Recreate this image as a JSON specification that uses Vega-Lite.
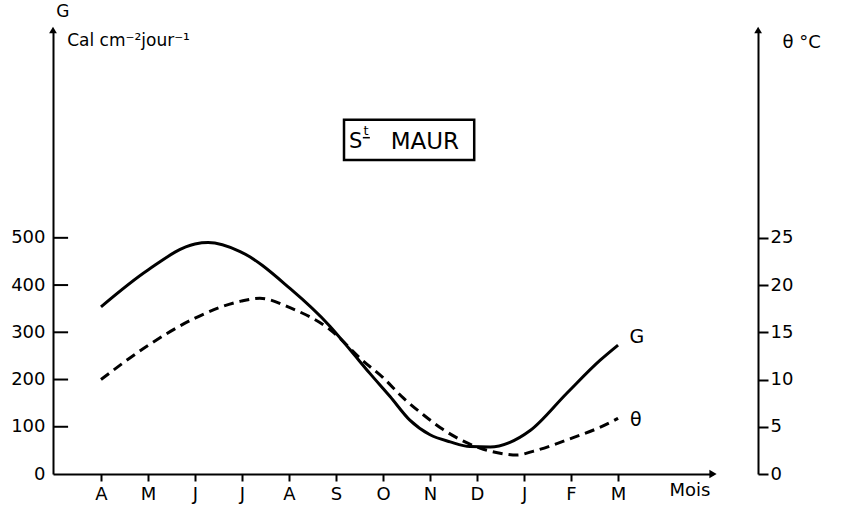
{
  "$schema": "https://vega.github.io/schema/vega-lite/v6.json",
  "width": 660,
  "height": 444,
  "autosize": {"type": "none"},
  "padding": {"left": 53, "top": 30, "right": 133, "bottom": 38},
  "background": "white",
  "config": {
    "view": {"stroke": null},
    "font": "DejaVu Sans",
    "axis": {"grid": false, "domainColor": "black", "domainWidth": 2, "tickColor": "black", "tickWidth": 2, "labelColor": "black", "labelFontSize": 18, "labelFont": "DejaVu Sans", "title": null}
  },
  "datasets": {
    "G": [
      {"m": 0, "v": 354}, {"m": 1, "v": 432}, {"m": 2, "v": 487}, {"m": 2.28, "v": 490},
      {"m": 2.96, "v": 471}, {"m": 4.02, "v": 393}, {"m": 4.87, "v": 313}, {"m": 5.3, "v": 263},
      {"m": 5.72, "v": 213}, {"m": 6.15, "v": 164}, {"m": 6.57, "v": 114}, {"m": 7.0, "v": 83},
      {"m": 7.43, "v": 68}, {"m": 7.85, "v": 58}, {"m": 8.28, "v": 57}, {"m": 8.7, "v": 67},
      {"m": 9.13, "v": 92}, {"m": 9.91, "v": 171}, {"m": 10.62, "v": 241}, {"m": 11, "v": 273}
    ],
    "T": [
      {"m": 0, "v": 10.0}, {"m": 1, "v": 13.6}, {"m": 2, "v": 16.5}, {"m": 2.98, "v": 18.3},
      {"m": 3.38, "v": 18.6}, {"m": 4.02, "v": 17.6}, {"m": 4.87, "v": 15.3}, {"m": 5.57, "v": 12.0},
      {"m": 6.0, "v": 10.2}, {"m": 6.43, "v": 8.05}, {"m": 6.85, "v": 6.3}, {"m": 7.28, "v": 4.7},
      {"m": 7.7, "v": 3.5}, {"m": 8.06, "v": 2.75}, {"m": 8.49, "v": 2.2}, {"m": 8.85, "v": 2.0},
      {"m": 9.19, "v": 2.4}, {"m": 9.91, "v": 3.6}, {"m": 10.89, "v": 5.6}, {"m": 11, "v": 5.9}
    ],
    "ticksG": [{"v": 100}, {"v": 200}, {"v": 300}, {"v": 400}, {"v": 500}]
  },
  "resolve": {"scale": {"y": "independent"}},
  "layer": [
    {
      "layer": [
        {
          "data": {"name": "G"},
          "mark": {"type": "line", "color": "black", "strokeWidth": 3, "interpolate": "monotone"},
          "encoding": {
            "x": {"field": "m", "type": "quantitative", "scale": {"domain": [-1.021, 13.02], "nice": false, "zero": false},
              "axis": {"values": [0,1,2,3,4,5,6,7,8,9,10,11], "tickSize": 7, "labelPadding": 4,
                "labelExpr": "['A','M','J','J','A','S','O','N','D','J','F','M'][datum.value]"}},
            "y": {"field": "v", "type": "quantitative", "scale": {"domain": [0, 940], "nice": false},
              "axis": {"values": [0,100,200,300,400,500], "tickSize": 8, "labelPadding": 0, "tickOpacity": 0}}
          }
        },
        {
          "data": {"name": "ticksG"},
          "mark": {"type": "rule", "color": "black", "strokeWidth": 2},
          "encoding": {"x": {"datum": -1.021}, "x2": {"datum": -0.7}, "y": {"field": "v", "type": "quantitative"}}
        },
        {
          "data": {"values": [{}]},
          "mark": {"type": "rect", "fill": null, "stroke": "black", "strokeWidth": 2.5},
          "encoding": {"x": {"datum": 5.17}, "x2": {"datum": 7.94}, "y": {"datum": 750}, "y2": {"datum": 665}}
        },
        {
          "data": {"values": [{}]},
          "mark": {"type": "text", "fontSize": 21, "align": "center", "baseline": "middle", "color": "black"},
          "encoding": {"x": {"datum": 5.42}, "y": {"datum": 703}, "text": {"value": "S"}}
        },
        {
          "data": {"values": [{}]},
          "mark": {"type": "text", "fontSize": 13, "align": "center", "baseline": "middle", "color": "black"},
          "encoding": {"x": {"datum": 5.64}, "y": {"datum": 727}, "text": {"value": "t"}}
        },
        {
          "data": {"values": [{}]},
          "mark": {"type": "rule", "color": "black", "strokeWidth": 1.5},
          "encoding": {"x": {"datum": 5.57}, "x2": {"datum": 5.72}, "y": {"datum": 712}}
        },
        {
          "data": {"values": [{}]},
          "mark": {"type": "text", "fontSize": 23, "align": "center", "baseline": "middle", "color": "black"},
          "encoding": {"x": {"datum": 6.89}, "y": {"datum": 703}, "text": {"value": "MAUR"}}
        },
        {
          "data": {"values": [{}]},
          "mark": {"type": "text", "fontSize": 19, "align": "center", "baseline": "middle", "color": "black"},
          "encoding": {"x": {"datum": 11.4}, "y": {"datum": 290}, "text": {"value": "G"}}
        },
        {
          "data": {"values": [{}]},
          "mark": {"type": "text", "fontSize": 19, "align": "center", "baseline": "middle", "color": "black"},
          "encoding": {"x": {"datum": 11.38}, "y": {"datum": 114}, "text": {"value": "θ"}}
        },
        {
          "data": {"values": [{}]},
          "mark": {"type": "text", "fontSize": 18, "align": "center", "baseline": "middle", "color": "black"},
          "encoding": {"x": {"datum": 12.53}, "y": {"datum": -36}, "text": {"value": "Mois"}}
        },
        {
          "data": {"values": [{}]},
          "mark": {"type": "text", "fontSize": 17, "align": "center", "baseline": "middle", "color": "black"},
          "encoding": {"x": {"datum": -0.81}, "y": {"datum": 979}, "text": {"value": "G"}}
        },
        {
          "data": {"values": [{}]},
          "mark": {"type": "text", "fontSize": 17, "align": "left", "baseline": "middle", "color": "black"},
          "encoding": {"x": {"datum": -0.72}, "y": {"datum": 917}, "text": {"value": "Cal cm⁻²jour⁻¹"}}
        },
        {
          "data": {"values": [{}]},
          "mark": {"type": "text", "fontSize": 18, "align": "left", "baseline": "middle", "color": "black"},
          "encoding": {"x": {"datum": 14.5}, "y": {"datum": 912}, "text": {"value": "θ  °C"}}
        },
        {
          "data": {"values": [{}]},
          "mark": {"type": "point", "shape": "triangle-right", "filled": true, "color": "black", "size": 70, "opacity": 1},
          "encoding": {"x": {"datum": 13.02}, "y": {"datum": 0}}
        },
        {
          "data": {"values": [{}]},
          "mark": {"type": "point", "shape": "triangle-up", "filled": true, "color": "black", "size": 60, "opacity": 1},
          "encoding": {"x": {"datum": -1.021}, "y": {"datum": 940}}
        },
        {
          "data": {"values": [{}]},
          "mark": {"type": "point", "shape": "triangle-up", "filled": true, "color": "black", "size": 60, "opacity": 1},
          "encoding": {"x": {"datum": 13.98}, "y": {"datum": 940}}
        }
      ]
    },
    {
      "data": {"name": "T"},
      "mark": {"type": "line", "color": "black", "strokeWidth": 3, "strokeDash": [10, 6], "interpolate": "monotone"},
      "encoding": {
        "x": {"field": "m", "type": "quantitative"},
        "y": {"field": "v", "type": "quantitative", "scale": {"domain": [0, 47], "nice": false},
          "axis": {"orient": "right", "offset": 45, "values": [0,5,10,15,20,25], "tickSize": 10, "labelPadding": 2}}
      }
    }
  ]
}
